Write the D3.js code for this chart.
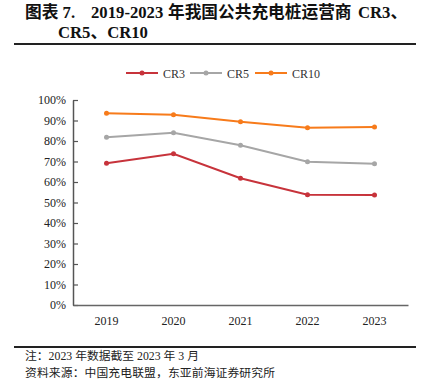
<!DOCTYPE html>
<html>
<head>
<meta charset="utf-8">
<script src="https://cdn.jsdelivr.net/npm/d3@7"></script>
<style>
  body { margin: 0; background: #fff; }
  text { font-family: "Liberation Serif", "Noto Sans CJK SC", serif; }
</style>
</head>
<body>
<div id="chart"></div>
<script>
var years = ['2019', '2020', '2021', '2022', '2023'];
var cr3 = [69.1, 73.8, 61.8, 53.8, 53.7];
var cr5 = [81.8, 84.0, 77.9, 69.9, 68.9];
var cr10 = [93.5, 92.8, 89.4, 86.5, 86.8];
var seriesNames = ['CR3', 'CR5', 'CR10'];
var colors = ['#C7333B', '#A6A6A6', '#F77B1B'];
var yTicks = [0, 10, 20, 30, 40, 50, 60, 70, 80, 90, 100];

var svg = d3.select('#chart').append('svg')
  .attr('width', 430)
  .attr('height', 385);

// title, pieces placed like the original
var title = svg.append('text')
  .attr('y', 18)
  .attr('font-size', '16.7px').attr('font-weight', 'bold').attr('fill', '#111');
title.append('tspan').attr('x', 25).text('图表 7.');
title.append('tspan').attr('x', 91).text('2019-2023');
title.append('tspan').attr('x', 168).text('年我国公共充电桩运营商');
title.append('tspan').attr('x', 358).text('CR3、');
svg.append('text')
  .attr('x', 58).attr('y', 38)
  .attr('font-size', '16.7px').attr('font-weight', 'bold').attr('fill', '#111')
  .text('CR5、CR10');
svg.append('line')
  .attr('x1', 14).attr('x2', 416).attr('y1', 44).attr('y2', 44)
  .attr('stroke', '#222').attr('stroke-width', 2);

var x = d3.scaleBand().domain(years).range([73, 408]);
var y = d3.scaleLinear().domain([0, 100]).range([305, 100]);
var color = d3.scaleOrdinal().domain(seriesNames).range(colors);

var series = [
  {name: 'CR3', values: cr3},
  {name: 'CR5', values: cr5},
  {name: 'CR10', values: cr10}
];

// y axis, ticks pointing inward
var yAxis = svg.append('g')
  .attr('transform', 'translate(73,0)')
  .call(d3.axisLeft(y).tickValues(yTicks).tickSizeInner(-5).tickSizeOuter(0)
    .tickFormat(function(d) { return d + '%'; }));
yAxis.select('.domain').attr('stroke', '#555').attr('stroke-width', 1.5);
yAxis.selectAll('.tick line').attr('stroke', '#555').attr('stroke-width', 1.2);
yAxis.selectAll('.tick text')
  .attr('font-size', '12px').attr('fill', '#222').attr('x', -7)
  .style('font-family', '"Liberation Serif", serif');

// x axis
var xAxis = svg.append('g')
  .attr('transform', 'translate(0,305)')
  .call(d3.axisBottom(x).tickSize(0).tickPadding(11));
xAxis.select('.domain').attr('stroke', '#666').attr('stroke-width', 1.5);
xAxis.selectAll('.tick text')
  .attr('font-size', '12px').attr('fill', '#222')
  .style('font-family', '"Liberation Serif", serif');

var line = d3.line()
  .x(function(d, i) { return x(years[i]) + x.bandwidth() / 2; })
  .y(function(d) { return y(d); });

var g = svg.selectAll('.series')
  .data(series)
  .enter().append('g');

g.append('path')
  .attr('d', function(d) { return line(d.values); })
  .attr('fill', 'none')
  .attr('stroke', function(d) { return color(d.name); })
  .attr('stroke-width', 2);

g.selectAll('circle')
  .data(function(d) { return d.values.map(function(v, i) { return {name: d.name, v: v, i: i}; }); })
  .enter().append('circle')
  .attr('cx', function(d) { return x(years[d.i]) + x.bandwidth() / 2; })
  .attr('cy', function(d) { return y(d.v); })
  .attr('r', 2.5)
  .attr('fill', function(d) { return color(d.name); });

// legend
var legendX = [126, 190, 255];
var lg = svg.selectAll('.legend')
  .data(seriesNames)
  .enter().append('g')
  .attr('transform', function(d, i) { return 'translate(' + legendX[i] + ',73)'; });
lg.append('line')
  .attr('x1', 0).attr('x2', 32)
  .attr('stroke', function(d) { return color(d); })
  .attr('stroke-width', 2);
lg.append('circle')
  .attr('cx', 16).attr('r', 2.5)
  .attr('fill', function(d) { return color(d); });
lg.append('text')
  .attr('x', 37).attr('y', 4.5)
  .attr('font-size', '12px').attr('fill', '#333')
  .text(function(d) { return d; });

// footer
svg.append('line')
  .attr('x1', 14).attr('x2', 416).attr('y1', 347).attr('y2', 347)
  .attr('stroke', '#222').attr('stroke-width', 2);
svg.append('text')
  .attr('x', 25).attr('y', 360)
  .attr('font-size', '11.8px').attr('fill', '#222')
  .attr('textLength', 174).attr('lengthAdjust', 'spacing')
  .text('注：2023 年数据截至 2023 年 3 月');
svg.append('text')
  .attr('x', 25).attr('y', 377)
  .attr('font-size', '11.8px').attr('fill', '#222')
  .attr('textLength', 250).attr('lengthAdjust', 'spacing')
  .text('资料来源：中国充电联盟，东亚前海证券研究所');
</script>
</body>
</html>
